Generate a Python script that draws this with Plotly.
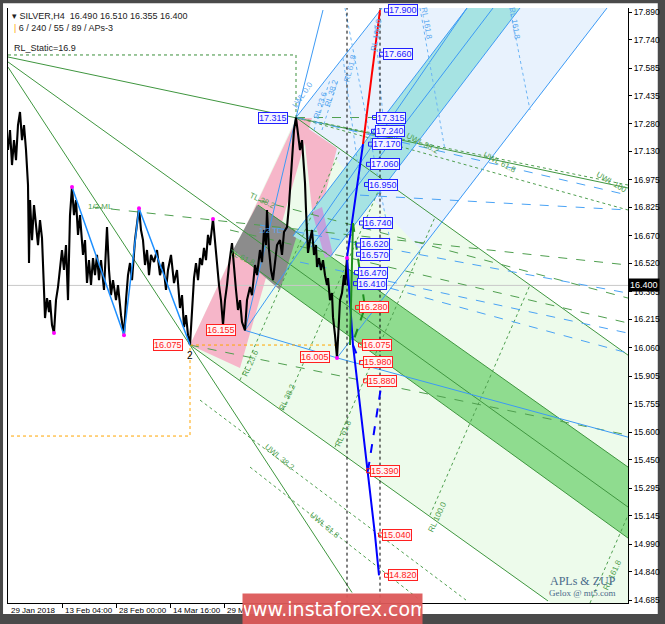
import plotly.graph_objects as go

# x = bar index from the first visible bar, y = price
PRICE_BARS = [0, 2, 4, 6, 8, 10, 12, 14, 16, 18, 20, 21, 22, 24, 26, 28, 30, 32, 34, 36,
              37, 39, 41, 42, 44, 46, 48, 50, 52, 54, 56, 58, 60, 62, 64, 66, 68, 70, 72, 75,
              77, 79, 81, 83, 85, 87, 89, 91, 93, 96, 99, 101, 103, 105, 108, 110, 113, 116, 118, 120,
              122, 124, 127, 129, 131, 133, 135, 137, 139, 141, 143, 146, 149, 152, 155, 158, 160, 163, 166, 169,
              172, 174, 176, 178, 180, 182, 184, 186, 188, 190, 192, 194, 196, 198, 200, 202, 205, 207, 209, 211,
              213, 215, 217, 219, 221, 224, 226, 228, 230, 232, 234, 237, 239, 242, 244, 247, 249, 252, 254, 256,
              258, 259, 261, 263, 265, 267, 269, 272, 274, 276, 279, 281, 283, 284, 286, 288, 290, 292, 294, 296,
              297, 298, 300, 302, 304, 306, 308, 309, 311, 313, 315, 317, 319, 320, 322, 324, 325, 327, 329, 331,
              332, 334, 336, 337, 339, 340]
PRICE = [17.138, 17.247, 17.056, 17.192, 17.083, 17.274, 17.345, 17.192, 17.274, 17.138, 16.947, 16.522, 16.865, 16.647, 16.838, 16.729, 16.620, 16.756, 16.658, 16.375,
         16.222, 16.331, 16.255, 16.320, 16.184, 16.140, 16.320, 16.391, 16.511, 16.593, 16.484, 16.620, 16.320, 16.783, 16.936, 16.783, 16.865, 16.675, 16.783, 16.566,
         16.647, 16.413, 16.538, 16.402, 16.549, 16.456, 16.566, 16.429, 16.538, 16.375, 16.718, 16.484, 16.347, 16.429, 16.320, 16.402, 16.238, 16.129, 16.320, 16.456,
         16.522, 16.429, 16.647, 16.729, 16.821, 16.702, 16.647, 16.511, 16.593, 16.456, 16.566, 16.527, 16.593, 16.456, 16.527, 16.375, 16.484, 16.566, 16.413, 16.484,
         16.277, 16.347, 16.173, 16.238, 16.129, 16.075, 16.266, 16.440, 16.522, 16.429, 16.549, 16.511, 16.604, 16.538, 16.675, 16.620, 16.762, 16.620, 16.522, 16.402,
         16.320, 16.184, 16.320, 16.402, 16.511, 16.631, 16.484, 16.375, 16.266, 16.320, 16.200, 16.155, 16.320, 16.391, 16.347, 16.511, 16.456, 16.593, 16.527, 16.702,
         16.620, 16.811, 16.593, 16.484, 16.429, 16.527, 16.620, 16.647, 16.566, 16.691, 16.718, 16.838, 17.001, 17.138, 17.247, 17.315, 17.220, 17.138, 17.192, 17.029,
         16.958, 16.811, 16.577, 16.647, 16.702, 16.566, 16.620, 16.500, 16.549, 16.484, 16.538, 16.456, 16.402, 16.440, 16.320, 16.358, 16.227, 16.129, 16.005, 16.211,
         16.320, 16.358, 16.456, 16.402, 16.549, 16.400]

PIVOT_BARS = [46, 64, 116, 131, 205, 339, 329]
PIVOT_PRICES = [16.140, 16.936, 16.129, 16.821, 16.762, 16.549, 16.005]

ZIGZAG_BARS = [64, 116, 131, 182]
ZIGZAG_PRICES = [16.936, 16.129, 16.821, 16.075]

# filled channels
LIGHT_GREEN_X = [182, 288, 620, 620]
LIGHT_GREEN_Y = [16.075, 17.315, 16.020, 14.368]
LIGHT_BLUE_X = [288, 374, 599, 413]
LIGHT_BLUE_Y = [17.315, 17.912, 17.912, 16.593]
PINK_UP_X = [182, 289, 304, 232]
PINK_UP_Y = [16.075, 17.312, 17.312, 15.950]
PINK_DOWN_X = [295, 329, 314, 304]
PINK_DOWN_Y = [17.274, 17.148, 16.827, 16.811]
GREEN_BAND_X = [250, 620, 620, 225]
GREEN_BAND_Y = [16.838, 15.410, 15.023, 16.582]
GRAY_X = [249, 290, 272, 225]
GRAY_Y = [16.838, 16.691, 16.375, 16.593]
CYAN_X = [285, 459, 512, 322]
CYAN_Y = [16.669, 17.912, 17.912, 16.555]
PURPLE_X = [304, 314, 325, 317]
PURPLE_Y = [16.800, 16.827, 16.566, 16.549]

GREEN_SOLID = [
    ([0, 620], [17.645, 16.931]),
    ([0, 620], [17.618, 15.192]),
    ([0, 182, 344], [17.590, 16.075, 14.726]),
    ([182, 540], [16.075, 14.680]),
    ([288, 620], [17.315, 16.020]),
    ([250, 620], [16.838, 15.410]),
    ([225, 620], [16.582, 15.023]),
]
GREEN_LONGDASH = [
    ([85, 620], [16.827, 16.511]),
    ([250, 620], [16.865, 16.331]),
    ([222, 620], [16.702, 16.195]),
    ([182, 620], [16.075, 15.584]),
    ([288, 372], [17.315, 17.315]),
]
GREEN_SHORTDASH = [
    ([288, 620], [17.315, 16.947]),
    ([288, 620], [17.315, 16.811]),
    ([192, 458], [15.775, 14.685]),
    ([242, 412], [15.410, 14.685]),
    ([232, 332], [15.884, 17.138]),
    ([275, 375], [15.721, 16.974]),
    ([327, 427], [15.519, 16.772]),
    ([422, 522], [15.148, 16.402]),
    ([582, 620], [14.669, 15.148]),
]
BLUE_LONGDASH = [
    ([288, 620], [17.315, 16.892]),
    ([352, 620], [16.892, 16.811]),
    ([252, 620], [16.729, 16.358]),
    ([292, 620], [16.527, 16.140]),
    ([382, 620], [16.385, 16.031]),
]
BLUE_SOLID = [
    ([329, 599], [16.005, 17.912]),
    ([237, 329, 620], [16.155, 16.005, 15.573]),
    ([237, 288, 315], [16.155, 17.315, 17.901]),
    ([288, 374], [17.315, 17.912]),
    ([237, 459], [16.155, 17.912]),
    ([285, 459], [16.669, 17.912]),
    ([303, 485], [16.609, 17.912]),
    ([322, 512], [16.555, 17.912]),
]
BLUE_DOTTED = [
    ([412, 437], [17.912, 17.138]),
    ([502, 522], [17.912, 17.356]),
    ([337, 382], [17.912, 16.647]),
    ([335, 352], [17.639, 16.974]),
    ([367, 377], [17.819, 17.192]),
    ([306, 322], [17.247, 17.520]),
    ([314, 330], [17.247, 17.520]),
]

RED_FC_BARS = [355, 372]
RED_FC_PRICES = [17.17, 17.90]
BLUE_FC_BARS = [355, 339, 345, 360, 367, 371]
BLUE_FC_PRICES = [17.17, 16.549, 16.075, 15.39, 15.04, 14.82]
BLUE_FC_DASH = [([360, 374], [15.39, 15.88]), ([345, 352], [16.075, 15.98])]
GREEN_FC_BARS = [342, 345]
GREEN_FC_PRICES = [16.075, 16.74]
GREEN_FC_DASH_BARS = [345, 357, 344]
GREEN_FC_DASH_PRICES = [16.74, 16.28, 16.075]

VLINE_BARS = [339, 372]
ORANGE_BARS = [329, 182, 182, 0]
ORANGE_PRICES = [16.075, 16.075, 15.579, 15.579]
STATIC_BARS = [0, 288, 288]
STATIC_PRICES = [17.656, 17.656, 17.315]
LAST_PRICE = 16.400

BLUE_TAGS = ["17.900", "17.660", "17.315", "17.240", "17.170", "17.060", "16.950",
             "16.740", "16.620", "16.570", "16.470", "16.410"]
BLUE_TAG_BARS = [380, 375, 368, 367, 364, 362, 360, 355, 352, 352, 350, 349]
RED_TAGS = ["16.280", "16.075", "15.980", "15.880", "15.390", "15.040", "14.820"]
RED_TAG_BARS = [351, 354, 355, 359, 362, 374, 380]
LEFT_RED_TAGS = ["16.075", "16.155", "16.005"]
LEFT_RED_BARS = [175, 228, 322]
LEFT_RED_PRICES = [16.075, 16.155, 16.009]

LINE_LABELS = [
    ("UWL 38.2", 415, 17.176, 28, "#4f9f4f"),
    ("UWL 61.8", 492, 17.072, 28, "#4f9f4f"),
    ("UWL 100", 604, 16.963, 30, "#4f9f4f"),
    ("UWL 38.2", 272, 15.464, 40, "#4f9f4f"),
    ("UWL 61.8", 317, 15.094, 40, "#4f9f4f"),
    ("RL 23.6", 242, 15.977, -65, "#4f9f4f"),
    ("RL 38.2", 279, 15.791, -65, "#4f9f4f"),
    ("RL 61.8", 335, 15.595, -65, "#4f9f4f"),
    ("RL 100.0", 429, 15.137, -65, "#4f9f4f"),
    ("RL 161.8", 604, 14.821, -65, "#4f9f4f"),
    ("TL 38.2", 254, 16.865, 25, "#4f9f4f"),
    ("TL 61.8", 234, 16.554, 25, "#4f9f4f"),
    ("1/2 ML", 92, 16.832, 0, "#4f9f4f"),
    ("1/2 TL", 262, 16.702, 0, "#5aa8f0"),
    ("RL 161.8", 419, 17.830, 80, "#5aa8f0"),
    ("RL 161.8", 507, 17.830, 80, "#5aa8f0"),
    ("LWL 0.0", 294, 17.437, -55, "#5aa8f0"),
    ("RL 23.6", 312, 17.383, -72, "#5aa8f0"),
    ("RL 38.2", 323, 17.448, -72, "#5aa8f0"),
    ("RL 61.8", 342, 17.584, -75, "#5aa8f0"),
    ("RL 100.0", 368, 17.764, -80, "#5aa8f0"),
]

YTICKS = [17.890, 17.740, 17.585, 17.435, 17.280, 17.130, 16.975, 16.825, 16.670, 16.520, 16.365,
          16.215, 16.060, 15.905, 15.755, 15.600, 15.450, 15.295, 15.145, 14.990, 14.840, 14.685]
XTICK_BARS = [0, 54, 108, 162, 216]
XTICK_TEXT = ["29 Jan 2018", "13 Feb 04:00", "28 Feb 00:00", "14 Mar 16:00", "29 Mar 0"]

FONT = "Liberation Sans"
GREEN = "#3f963f"
BLUE = "#3c9af5"

fig = go.Figure()


def area(xs, ys, color):
    fig.add_trace(go.Scatter(x=xs, y=ys, fill="toself", fillcolor=color, mode="lines",
                             line=dict(width=0), hoverinfo="skip", showlegend=False))


def line(xs, ys, color, width=1, dash="solid"):
    fig.add_trace(go.Scatter(x=xs, y=ys, mode="lines", line=dict(color=color, width=width, dash=dash),
                             hoverinfo="skip", showlegend=False))


# channels
area(LIGHT_GREEN_X, LIGHT_GREEN_Y, "#edfbeb")
area(LIGHT_BLUE_X, LIGHT_BLUE_Y, "#e8f2fd")
area(PINK_UP_X, PINK_UP_Y, "#f6b6c9")
area(PINK_DOWN_X, PINK_DOWN_Y, "#f6b6c9")
area(GREEN_BAND_X, GREEN_BAND_Y, "#8fdc8f")
area(GRAY_X, GRAY_Y, "#8c8c8c")
area(CYAN_X, CYAN_Y, "#a6e3e3")
area(PURPLE_X, PURPLE_Y, "#c4a2dc")

# current price line
line([0, 620], [LAST_PRICE, LAST_PRICE], "#c8c8c8")

for xs, ys in GREEN_SOLID:
    line(xs, ys, GREEN)
for xs, ys in GREEN_LONGDASH:
    line(xs, ys, "#4f9f4f", 1, "dash")
for xs, ys in GREEN_SHORTDASH:
    line(xs, ys, "#4f9f4f", 1, "3px,3px")
for xs, ys in BLUE_LONGDASH:
    line(xs, ys, "#4aa3f5", 1, "dash")
for xs, ys in BLUE_SOLID:
    line(xs, ys, BLUE)
for xs, ys in BLUE_DOTTED:
    line(xs, ys, "#6bb4f5", 1, "3px,3px")

line(ORANGE_BARS, ORANGE_PRICES, "#ffa500", 1, "dot")
line(STATIC_BARS, STATIC_PRICES, "#3a8f3a", 1, "dot")
for b in VLINE_BARS:
    line([b, b], [14.6, 18.0], "#000000", 1, "3px,3px")

# price
line(PRICE_BARS, PRICE, "#000000", 2.1)
line(ZIGZAG_BARS, ZIGZAG_PRICES, "#1e90ff", 1.5)

# forecast
line(RED_FC_BARS, RED_FC_PRICES, "#ff0000", 2)
line(BLUE_FC_BARS, BLUE_FC_PRICES, "#0000ff", 2)
for xs, ys in BLUE_FC_DASH:
    line(xs, ys, "#0000ff", 2, "dash")
line(GREEN_FC_BARS, GREEN_FC_PRICES, "#1f8f1f", 2)
line(GREEN_FC_DASH_BARS, GREEN_FC_DASH_PRICES, "#1f8f1f", 2, "dash")

fig.add_trace(go.Scatter(x=PIVOT_BARS, y=PIVOT_PRICES, mode="markers",
                         marker=dict(color="#ff00ff", size=4), hoverinfo="skip", showlegend=False))

# little anchor squares in front of the price tags
fig.add_trace(go.Scatter(x=[b - 1.5 for b in BLUE_TAG_BARS], y=[float(t) for t in BLUE_TAGS],
                         mode="markers", marker=dict(symbol="square-open", size=4, color="#2020ff"),
                         hoverinfo="skip", showlegend=False))
fig.add_trace(go.Scatter(x=[b - 1.5 for b in RED_TAG_BARS], y=[float(t) for t in RED_TAGS],
                         mode="markers", marker=dict(symbol="square-open", size=4, color="#ff2020"),
                         hoverinfo="skip", showlegend=False))

TAG_FONT = 9
TAG_NUDGE = {"16.620": 1, "16.570": -1}
ann = []
for t, b in zip(BLUE_TAGS, BLUE_TAG_BARS):
    ann.append(dict(x=b, y=float(t), text=t, xanchor="left", showarrow=False, yshift=TAG_NUDGE.get(t, 0),
                    font=dict(family=FONT, size=TAG_FONT, color="#2020ff"), bgcolor="#f4f4ff",
                    bordercolor="#2020ff", borderwidth=1, borderpad=0))
for t, b in zip(RED_TAGS, RED_TAG_BARS):
    ann.append(dict(x=b, y=float(t), text=t, xanchor="left", showarrow=False,
                    font=dict(family=FONT, size=TAG_FONT, color="#ff2020"), bgcolor="#fff4f4",
                    bordercolor="#ff2020", borderwidth=1, borderpad=0))
for t, b, p in zip(LEFT_RED_TAGS, LEFT_RED_BARS, LEFT_RED_PRICES):
    ann.append(dict(x=b, y=p, text=t, xanchor="right", showarrow=False,
                    font=dict(family=FONT, size=TAG_FONT, color="#ff2020"), bgcolor="#fff4f4",
                    bordercolor="#ff2020", borderwidth=1, borderpad=0))
ann.append(dict(x=280, y=17.315, text="17.315", xanchor="right", showarrow=False,
                font=dict(family=FONT, size=TAG_FONT, color="#2020ff"), bgcolor="#f4f4ff",
                bordercolor="#2020ff", borderwidth=1, borderpad=0))
ann.append(dict(x=182, y=16.06, text="2", yanchor="top", showarrow=False,
                font=dict(family=FONT, size=10, color="#000000")))

for t, b, p, a, c in LINE_LABELS:
    ann.append(dict(x=b, y=p, text=t, textangle=a, showarrow=False,
                    font=dict(family=FONT, size=8, color=c)))

for b, t in zip(XTICK_BARS, XTICK_TEXT):
    ann.append(dict(x=b, y=0, yref="paper", text=t, xanchor="left", yanchor="top", xshift=1,
                    yshift=-1, showarrow=False, font=dict(family=FONT, size=8, color="#000000")))

ann += [
    dict(x=0.004, y=0.999, xref="paper", yref="paper", xanchor="left", yanchor="top", showarrow=False,
         text="\u25be SILVER,H4  16.490 16.510 16.355 16.400",
         font=dict(family=FONT, size=9, color="#222222")),
    dict(x=0.006, y=0.978, xref="paper", yref="paper", xanchor="left", yanchor="top", showarrow=False,
         text="<span style='color:#ffa500'>|</span> 6 / 240 / 55 / 89 / APs-3",
         font=dict(family=FONT, size=9, color="#222222")),
    dict(x=0.006, y=0.945, xref="paper", yref="paper", xanchor="left", yanchor="top", showarrow=False,
         text="RL_Static=16.9", font=dict(family=FONT, size=9, color="#222222")),
    dict(x=0.927, y=0.037, xref="paper", yref="paper", xanchor="center", yanchor="middle",
         showarrow=False, text="APLs & ZUP",
         font=dict(family="Liberation Serif", size=12, color="#4a6a8a")),
    dict(x=0.927, y=0.016, xref="paper", yref="paper", xanchor="center", yanchor="middle",
         showarrow=False, text="Gelox @ mt5.com",
         font=dict(family="Liberation Serif", size=9, color="#4a6a8a")),
    dict(x=1.0, y=LAST_PRICE, xref="paper", xanchor="left", yanchor="middle", showarrow=False,
         text="16.400", font=dict(family=FONT, size=9, color="#ffffff"), bgcolor="#000000", borderpad=1),
    dict(x=0.5226, y=-0.0105, xref="paper", yref="paper", xanchor="center", yanchor="middle",
         showarrow=False, text="www.instaforex.com",
         width=177, height=28, bgcolor="rgba(220,88,88,0.95)",
         font=dict(family="DejaVu Sans", size=19, color="#ffffff")),
]

shapes = [
    dict(type="rect", xref="paper", yref="paper", x0=-0.008, x1=1.048, y0=-0.0185, y1=1.008,
         fillcolor="#ffffff", line=dict(width=0), layer="below"),
]

fig.update_layout(
    width=665, height=624,
    margin=dict(l=8, r=37, t=8, b=21),
    paper_bgcolor="#4a4a4a",
    plot_bgcolor="#f3f3f3",
    showlegend=False,
    annotations=ann,
    shapes=shapes,
    xaxis=dict(range=[0, 620], showgrid=False, zeroline=False, showline=True, linecolor="#000000",
               tickmode="array", tickvals=XTICK_BARS[1:], ticks="outside", ticklen=4,
               tickcolor="#000000", showticklabels=False, automargin=False),
    yaxis=dict(range=[14.669, 17.912], side="right", showgrid=False, zeroline=False, showline=True,
               mirror=True, linecolor="#000000", tickmode="array", tickvals=YTICKS,
               ticktext=[f"{v:.3f}" for v in YTICKS], ticks="outside", ticklen=3,
               tickcolor="#000000", tickfont=dict(family=FONT, size=8.5, color="#000000"),
               automargin=False),
)

fig.write_html("out.html", config={"displayModeBar": False},
               post_script="document.body.style.margin='0px';")
